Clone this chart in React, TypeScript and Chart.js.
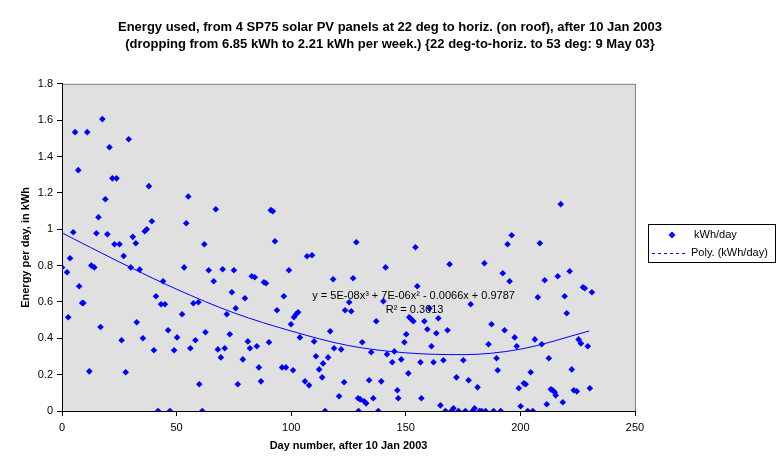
import { useEffect, useRef } from 'react';
import { Chart, registerables } from 'chart.js';

Chart.register(...registerables);

const dayNumbers = [
  0, 2.2, 2.7, 3.5, 4.9, 5.7, 7.1, 7.5, 8.8, 9.3, 11, 11.9, 12.8, 14.1, 15, 15.9, 16.8, 17.6, 18.9, 19.8,
  20.7, 22, 22.9, 23.8, 25.1, 26, 26.9, 27.8, 29.1, 30, 30.9, 32.2, 32.6, 33.9, 35.3, 36.1, 37, 37.9, 39.2, 40.1,
  41, 41.9, 43.2, 44.1, 44.9, 46.3, 47.1, 48.9, 50.2, 52.4, 53.3, 54.2, 55.1, 56, 57.3, 58.2, 59.5, 59.9, 61.2, 62.1,
  62.6, 64, 66.2, 67.1, 68, 69.3, 70.1, 71, 71.9, 73.2, 74.1, 75, 75.8, 76.7, 78.9, 79.8, 81.1, 82, 82.8, 84.1,
  85, 85.9, 86.8, 88.1, 89, 90.3, 91.1, 92, 92.9, 93.8, 96, 96.8, 97.7, 99, 99.9, 100.8, 101.2, 102.1, 103, 103.8,
  106, 106.9, 107.8, 109.1, 110, 110.8, 112.2, 113.5, 113.9, 114.8, 116.1, 117, 118.3, 118.7, 120.9, 121.8, 123.1, 123.5, 125.3, 126.2,
  127, 128.4, 129.2, 129.4, 130.1, 131, 131.8, 132.7, 134, 134.9, 135.8, 137.1, 138, 139.3, 140.2, 141.2, 141.8, 144.1, 145, 146.3,
  146.7, 148, 149.4, 150.2, 151.1, 151.5, 152.4, 153.3, 154.2, 155, 156.4, 156.8, 158.1, 159.4, 160.3, 161.2, 162.1, 163.3, 164.2, 165.1,
  166.4, 167.3, 168.2, 169.1, 169.9, 170.8, 172.1, 173, 175.1, 176, 177.4, 178.3, 179.1, 180, 181.3, 182.2, 183.1, 184.3, 184.8, 186.1,
  187.4, 188.3, 189.6, 190.1, 191.4, 192.3, 193.1, 194.4, 195.3, 196.2, 197.5, 198.4, 199.3, 200.1, 201.5, 202.3, 203.2, 204.5, 205.4, 206.3,
  207.6, 208.5, 209.3, 210.6, 211.5, 212.4, 213.3, 214.1, 215, 215.4, 216.3, 217.6, 218.5, 219.3, 220.2, 221.5, 222.4, 223.3, 224.6, 225.4,
  226.4, 227.3, 228.1, 229.4, 230.3, 231.2
];

const kwhPerDay = [
  0.79, 0.763, 0.516, 0.84, 0.983, 1.534, 1.325, 0.686, 0.594, 0.594, 1.534, 0.218, 0.8, 0.79, 0.978, 1.066, 0.462, 1.606, 1.165, 0.972,
  1.451, 1.28, 0.917, 1.28, 0.917, 0.389, 0.853, 0.213, 1.495, 0.79, 0.958, 0.923, 0.488, 0.778, 0.4, 0.989, 1.0, 1.237, 1.044, 0.334,
  0.631, 0, 0.587, 0.714, 0.587, 0.444, 0, 0.334, 0.405, 0.532, 0.79, 1.033, 1.18, 0.345, 0.593, 0.389, 0.598, 0.147, 0, 0.917,
  0.433, 0.774, 0.714, 1.11, 0.339, 0.295, 0.78, 0.345, 0.532, 0.422, 0.653, 0.774, 0.565, 0.147, 0.284, 0.62, 0.383, 0.345, 0.741, 0.736,
  0.356, 0.24, 0.163, 0.708, 0.703, 0.378, 1.105, 1.099, 0.934, 0.554, 0.24, 0.631, 0.24, 0.774, 0.477, 0.224, 0.516, 0.532, 0.543, 0.405,
  0.163, 0.851, 0.141, 0.857, 0.383, 0.301, 0.229, 0.185, 0.262, 0, 0.295, 0.439, 0.725, 0.345, 0.081, 0.339, 0.158, 0.554, 0.598, 0.549,
  0.73, 0.928, 0.07, 0, 0.064, 0.378, 0.053, 0.042, 0.169, 0.323, 0.07, 0.494, 0, 0.163, 0.604, 0.79, 0.312, 0.268, 0.328, 0.114,
  0.07, 0.284, 0.378, 0.422, 0.207, 0.516, 0.505, 0.494, 0.901, 0.686, 0.268, 0.07, 0.494, 0.45, 0.565, 0.356, 0.268, 0.428, 0.51, 0.031,
  0.279, 0, 0.444, 0.807, 0, 0.015, 0.185, 0, 0.279, 0, 0.169, 0.587, 0, 0.015, 0.13, 0, 0, 0.813, 0, 0.367,
  0.477, 0, 0.29, 0.224, 0, 0.758, 0.444, 0.917, 0.714, 0.967, 0.405, 0.356, 0.125, 0.026, 0.152, 0.147, 0, 0.213, 0, 0.394,
  0.626, 0.923, 0.367, 0.719, 0.037, 0.29, 0.119, 0.114, 0.103, 0.086, 0.741, 1.138, 0.048, 0.631, 0.538, 0.769, 0.229, 0.114, 0.108, 0.394,
  0.372, 0.681, 0.675, 0.356, 0.125, 0.653
];

// trendline at a few days
const trendDays = [0, 25, 50, 75, 100, 125, 150, 175, 200, 230];
const trendKwh = [0.98, 0.82, 0.67, 0.54, 0.44, 0.36, 0.32, 0.31, 0.34, 0.44];

const titleLines = [
  'Energy used, from 4 SP75 solar PV panels at 22 deg to horiz. (on roof), after 10 Jan 2003',
  '(dropping from 6.85 kWh to 2.21 kWh per week.) {22 deg-to-horiz. to 53 deg: 9 May 03}'
];
const equationText = 'y = 5E-08x\u00B3 + 7E-06x\u00B2 - 0.0066x + 0.9787';
const rSquaredText = 'R\u00B2 = 0.3013';
const seriesName = 'kWh/day';
const trendName = 'Poly. (kWh/day)';

const FONT = '"Liberation Sans", Arial, sans-serif';
const BLUE = '#0000FF';

const plotBackground = {
  id: 'plotBackground',
  beforeDraw(chart: Chart) {
    const { ctx, chartArea: a } = chart;
    ctx.save();
    ctx.fillStyle = '#E0E0E0';
    ctx.fillRect(a.left, a.top, a.right - a.left, a.bottom - a.top);
    ctx.strokeStyle = '#808080';
    ctx.lineWidth = 1;
    ctx.strokeRect(a.left + 0.5, a.top + 0.5, a.right - a.left, a.bottom - a.top);
    ctx.restore();
  }
};

const annotations = {
  id: 'annotations',
  afterDraw(chart: Chart) {
    const { ctx } = chart;
    const x = chart.scales.x;
    const y = chart.scales.y;
    ctx.save();
    ctx.fillStyle = '#000';
    ctx.font = `11px ${FONT}`;
    ctx.textAlign = 'center';
    ctx.textBaseline = 'middle';
    const ex = x.getPixelForValue(153.4);
    const ey = y.getPixelForValue(0.633);
    ctx.fillText(equationText, ex, ey);
    ctx.fillText(rSquaredText, ex + 1, ey + 14);

    // legend
    ctx.strokeStyle = '#000';
    ctx.lineWidth = 1;
    ctx.strokeRect(648.5, 224.5, 127, 38);
    ctx.fillStyle = BLUE;
    ctx.beginPath();
    ctx.moveTo(672, 231.5);
    ctx.lineTo(675.5, 235);
    ctx.lineTo(672, 238.5);
    ctx.lineTo(668.5, 235);
    ctx.closePath();
    ctx.fill();
    ctx.strokeStyle = BLUE;
    ctx.setLineDash([3, 3]);
    ctx.beginPath();
    ctx.moveTo(652, 253.5);
    ctx.lineTo(688, 253.5);
    ctx.stroke();
    ctx.setLineDash([]);
    ctx.fillStyle = '#000';
    ctx.textAlign = 'left';
    ctx.fillText(seriesName, 694, 235);
    ctx.fillText(trendName, 691, 253);
    ctx.restore();
  }
};

export default function App() {
  const canvasRef = useRef<HTMLCanvasElement>(null);
  const chartRef = useRef<Chart | null>(null);

  useEffect(() => {
    document.body.style.margin = '0';
    if (!canvasRef.current) return;
    if (chartRef.current) chartRef.current.destroy();

    chartRef.current = new Chart(canvasRef.current, {
      type: 'scatter',
      data: {
        datasets: [
          {
            label: trendName,
            data: trendDays.map((d, i) => ({ x: d, y: trendKwh[i] })),
            showLine: true,
            borderColor: BLUE,
            borderWidth: 1,
            pointRadius: 0,
            cubicInterpolationMode: 'monotone',
            order: 0
          },
          {
            label: seriesName,
            data: dayNumbers.map((d, i) => ({ x: d, y: kwhPerDay[i] })),
            pointStyle: 'rectRot',
            pointRadius: 3.3,
            pointBorderWidth: 0,
            backgroundColor: BLUE,
            borderColor: BLUE,
            order: 1
          }
        ]
      },
      options: {
        responsive: false,
        animation: false,
        events: [],
        layout: { padding: 0 },
        plugins: {
          legend: { display: false },
          tooltip: { enabled: false },
          title: {
            display: true,
            text: titleLines,
            color: '#000',
            font: { family: FONT, size: 13, weight: 'bold', lineHeight: 1.32 },
            padding: { top: 19, bottom: 30.5 }
          }
        },
        scales: {
          x: {
            type: 'linear',
            min: 0,
            max: 250,
            afterFit: (s: any) => { s.height = 64; },
            ticks: { stepSize: 50, color: '#000', font: { family: FONT, size: 11 }, padding: 5, maxRotation: 0 },
            grid: { drawOnChartArea: false, tickLength: 5, color: '#000' },
            border: { color: '#000' },
            title: {
              display: true,
              text: 'Day number, after 10 Jan 2003',
              color: '#000',
              font: { family: FONT, size: 11, weight: 'bold' },
              padding: { top: 0, bottom: 22 }
            }
          },
          y: {
            min: 0,
            max: 1.8,
            afterFit: (s: any) => { s.width = 62; },
            ticks: {
              stepSize: 0.2,
              color: '#000',
              font: { family: FONT, size: 11 },
              padding: 4,
              callback: (v: any) => String(Math.round(Number(v) * 10) / 10)
            },
            grid: { drawOnChartArea: false, tickLength: 5, color: '#000' },
            border: { color: '#000' },
            title: {
              display: true,
              text: 'Energy per day, in kWh',
              color: '#000',
              font: { family: FONT, size: 11, weight: 'bold' },
              padding: { top: 19, bottom: 0 }
            }
          },
          // empty axis that keeps room for the legend on the right
          spacer: {
            type: 'linear',
            position: 'right',
            afterFit: (s: any) => { s.width = 145; },
            ticks: { display: false },
            grid: { display: false },
            border: { display: false }
          }
        }
      },
      plugins: [plotBackground, annotations]
    });

    return () => {
      if (chartRef.current) {
        chartRef.current.destroy();
        chartRef.current = null;
      }
    };
  }, []);

  return (
    <div style={{ width: 780, height: 475, background: '#fff' }}>
      <canvas ref={canvasRef} width={780} height={475} />
    </div>
  );
}
